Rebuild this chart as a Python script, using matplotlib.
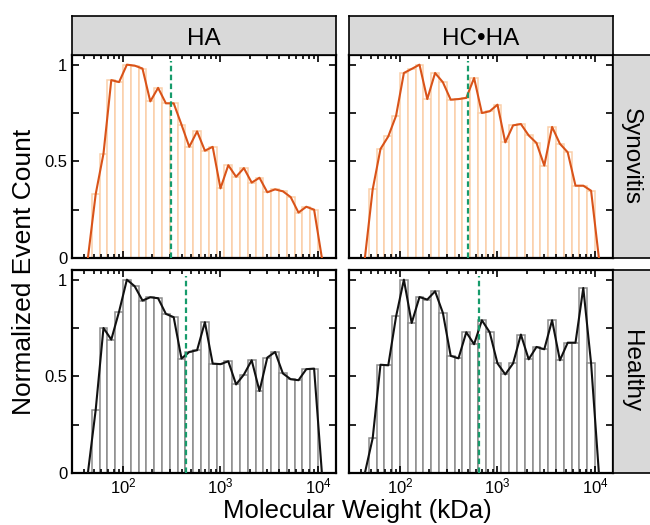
import numpy as np
import matplotlib
matplotlib.use('Agg')
import matplotlib.pyplot as plt
from matplotlib.ticker import LogLocator, NullFormatter

plt.rcParams['font.family'] = ['Liberation Sans', 'DejaVu Sans']
plt.rcParams['mathtext.default'] = 'regular'

# histogram bins (log10 kDa), width 0.08 decades
log_edges = np.round(np.arange(1.68, 4.0001, 0.08), 2)

columns = ['HA', 'HC\u2022HA']
rows = ['Synovitis', 'Healthy']

ha_syn = [0.33, 0.54, 0.92, 0.91, 1.0, 0.995, 0.98, 0.81, 0.88, 0.80,
          0.80, 0.69, 0.575, 0.655, 0.555, 0.575, 0.36, 0.48, 0.42, 0.465,
          0.39, 0.415, 0.34, 0.355, 0.345, 0.315, 0.235, 0.265, 0.25]
hcha_syn = [0.355, 0.564, 0.629, 0.736, 0.957, 0.978, 1.0, 0.822, 0.957, 0.909,
            0.819, 0.822, 0.828, 0.931, 0.75, 0.759, 0.793, 0.598, 0.686, 0.693,
            0.634, 0.595, 0.478, 0.678, 0.591, 0.547, 0.374, 0.374, 0.348]
ha_hea = [0.326, 0.75, 0.69, 0.835, 1.0, 0.966, 0.892, 0.909, 0.904, 0.823,
          0.806, 0.592, 0.626, 0.635, 0.78, 0.566, 0.563, 0.578, 0.458, 0.509,
          0.583, 0.424, 0.597, 0.626, 0.515, 0.485, 0.48, 0.537, 0.54]
hcha_hea = [0.18, 0.56, 0.557, 0.81, 1.0, 0.776, 0.91, 0.897, 0.94, 0.828,
            0.606, 0.593, 0.728, 0.666, 0.79, 0.728, 0.567, 0.51, 0.567, 0.716,
            0.588, 0.652, 0.64, 0.79, 0.583, 0.674, 0.674, 0.957, 0.567]

medians = [[308, 495], [438, 641]]  # kDa, dashed lines
data = [[ha_syn, hcha_syn], [ha_hea, hcha_hea]]

bar_colors = ['#fbcfa9', '#8c8c8c']
line_colors = ['#d95319', '#111111']
green = '#169b6b'

fig = plt.figure(figsize=(6.5, 5.25), dpi=100)

lefts = [72 / 650, 349 / 650]
width = 264 / 650
bottoms = [1 - 258 / 525, 1 - 473 / 525]
height = 203 / 525

lo = 10 ** log_edges[:-1]
hi = 10 ** log_edges[1:]
centers = 10 ** ((log_edges[:-1] + log_edges[1:]) / 2)
step = log_edges[1] - log_edges[0]
line_x = np.concatenate([[10 ** (np.log10(centers[0]) - step)], centers,
                         [10 ** (np.log10(centers[-1]) + step)]])

for r in range(2):
    for c in range(2):
        ax = fig.add_axes([lefts[c], bottoms[r], width, height])
        vals = np.array(data[r][c])
        ax.bar(lo, vals, width=hi - lo, align='edge', facecolor='white',
               edgecolor=bar_colors[r], linewidth=1.1, zorder=1)
        ax.plot(line_x, np.concatenate([[0], vals, [0]]), color=line_colors[r],
                lw=1.5, zorder=3)
        ax.vlines(medians[r][c], 0, 1.02, colors=green, linestyles=(0, (2.5, 1.5)),
                  lw=1.6, zorder=4)
        ax.set_xscale('log')
        ax.set_xlim(30, 15300)
        ax.set_ylim(0, 1.05)
        ax.xaxis.set_major_locator(LogLocator(base=10, numticks=10))
        ax.xaxis.set_minor_locator(LogLocator(base=10, subs=np.arange(2, 10), numticks=20))
        ax.xaxis.set_minor_formatter(NullFormatter())
        ax.set_yticks([0, 0.25, 0.5, 0.75, 1])
        ax.set_yticklabels(['0', '', '0.5', '', '1'])
        ax.tick_params(which='both', direction='in', top=True, right=True,
                       labelsize=12, width=1.2, color='black')
        ax.tick_params(axis='x', pad=2.5)
        ax.tick_params(which='major', length=5)
        ax.tick_params(which='minor', length=3)
        for s in ax.spines.values():
            s.set_linewidth(1.6)
        if r == 0:
            ax.tick_params(labelbottom=False)
        if c == 1:
            ax.tick_params(labelleft=False)

# facet strips
for c in range(2):
    sax = fig.add_axes([lefts[c], 1 - 55 / 525, width, 39 / 525])
    sax.set_facecolor('#d9d9d9')
    sax.set_xticks([])
    sax.set_yticks([])
    for s in sax.spines.values():
        s.set_linewidth(1.2)
    sax.text(0.5, 0.42, columns[c], ha='center', va='center', fontsize=17.5,
             transform=sax.transAxes)

for r in range(2):
    sax = fig.add_axes([613 / 650, bottoms[r], 50 / 650, height])
    sax.set_facecolor('#d9d9d9')
    sax.set_xticks([])
    sax.set_yticks([])
    for s in sax.spines.values():
        s.set_linewidth(1.2)
    fig.text(631 / 650, bottoms[r] + height / 2, rows[r], rotation=270,
             ha='center', va='center', fontsize=17.5)

fig.text(357 / 650, 1 - 511 / 525, 'Molecular Weight (kDa)', ha='center',
         va='center', fontsize=18.5)
fig.text(24 / 650, 1 - 272 / 525, 'Normalized Event Count', rotation=90,
         ha='center', va='center', fontsize=19)

fig.savefig('out.png', dpi=100)
